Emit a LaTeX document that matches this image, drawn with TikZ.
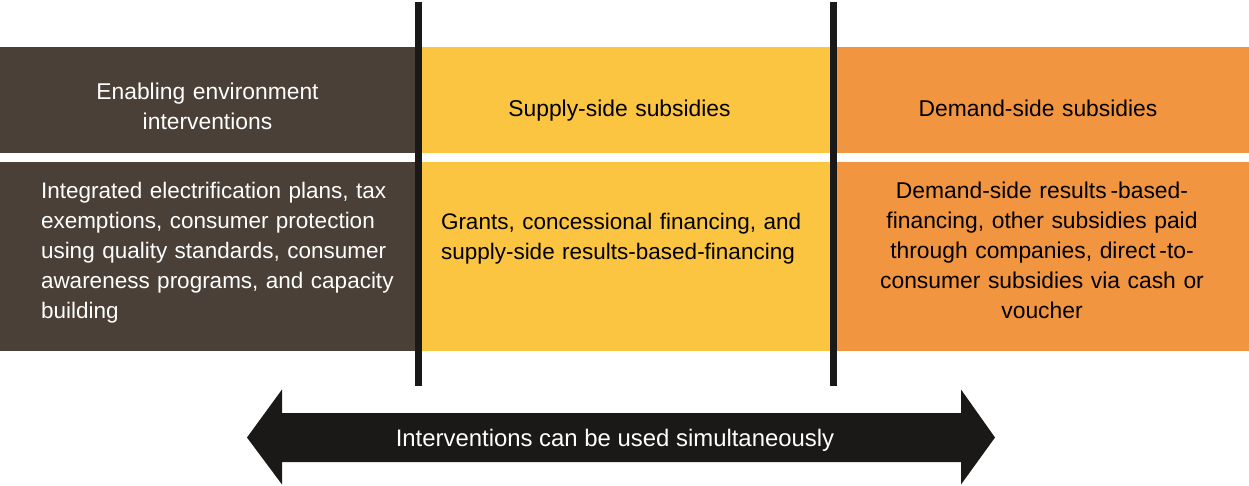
\documentclass[tikz,border=0pt]{standalone}
\usepackage{fontspec}
\setmainfont{Liberation Sans}
\definecolor{enabbrown}{HTML}{4A4037}
\definecolor{supyellow}{HTML}{FCC541}
\definecolor{demorange}{HTML}{F29541}
\definecolor{barblack}{HTML}{1A1917}
\begin{document}
\begin{tikzpicture}[scale=1,inner sep=0pt,outer sep=0pt,
cell/.style={rectangle,anchor=north west,minimum width=8.31cm},
headcell/.style={cell,minimum height=2.12cm},
bodycell/.style={cell,minimum height=3.78cm},
lbl/.style={font=\fontsize{13}{17.07}\selectfont,text width=7.6cm},
smalllbl/.style={lbl,font=\fontsize{12.8}{17.07}\selectfont},
sepline/.style={barblack,line width=4pt}]
\useasboundingbox (0,0) rectangle (24.98,9.7);
% header row
\node[headcell,fill=enabbrown,minimum width=8.37cm] (enabTop) at (0,8.76) {};
\node[headcell,fill=supyellow] (supTop) at (8.37,8.76) {};
\node[headcell,fill=demorange] (demTop) at (16.67,8.76) {};
% body row
\node[bodycell,fill=enabbrown,minimum width=8.37cm] (enabBody) at (0,6.46) {};
\node[bodycell,fill=supyellow] (supBody) at (8.37,6.46) {};
\node[bodycell,fill=demorange] (demBody) at (16.67,6.46) {};
% texts
\node[lbl,white,align=center,anchor=base] (enabHead) at (4.15,7.70) {Enabling environment\\interventions};
\node[lbl,align=center,anchor=base] (supHead) at (12.39,7.366) {Supply-side subsidies};
\node[lbl,align=center,anchor=base] (demHead) at (20.76,7.366) {Demand-side subsidies};
\node[smalllbl,white,align=left,anchor=base west] (enabText) at (0.82,5.734) {Integrated electrification plans, tax\\exemptions, consumer protection\\using quality standards, consumer\\awareness programs, and capacity\\building};
\node[smalllbl,align=left,anchor=base west] (supText) at (8.82,5.11) {Grants, concessional financing, and\\supply-side results-based-financing};
\node[lbl,align=center,anchor=base] (demText) at (20.84,5.734) {Demand-side results\thinspace-based-\\financing, other subsidies paid\\through companies, direct\thinspace-to-\\consumer subsidies via cash or\\voucher};
% separators
\draw[sepline] (8.37,9.66) -- (8.37,1.98);
\draw[sepline] (16.67,9.66) -- (16.67,1.98);
% double arrow
\fill[barblack] (4.94,0.95) -- (5.64,1.91) -- (5.64,1.44) -- (19.22,1.44) -- (19.22,1.91) -- (19.9,0.95)
  -- (19.22,0.01) -- (19.22,0.46) -- (5.64,0.46) -- (5.64,0.01) -- cycle;
\node[white,font=\fontsize{13.6}{16}\selectfont,anchor=base] (simul) at (12.3,0.78) {Interventions can be used simultaneously};
\end{tikzpicture}
\end{document}
